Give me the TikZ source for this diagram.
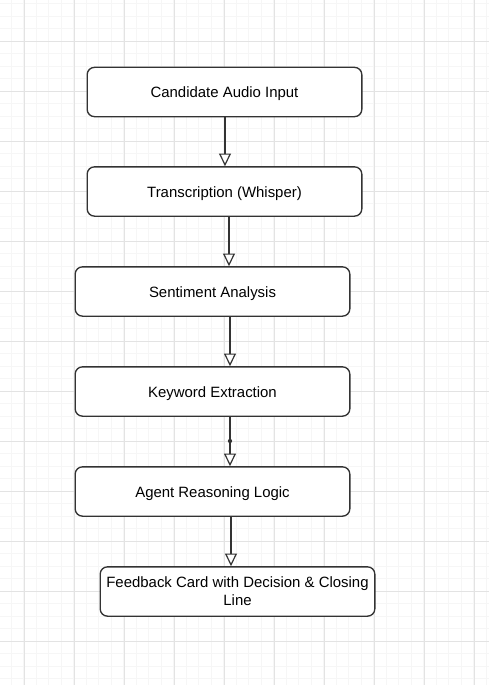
\documentclass[tikz,border=0pt]{standalone}
\usepackage{fontspec}
\setmainfont{Liberation Sans}
\usepackage{tikz}
\usetikzlibrary{arrows.meta}
\usepackage{xcolor}
\definecolor{gridminor}{HTML}{F6F6F6}
\definecolor{gridmajor}{HTML}{E3E3E3}
\definecolor{edge}{HTML}{333333}

\begin{document}
\begin{tikzpicture}[x=0.75pt,y=-0.75pt,
  stage/.style={draw=edge,line width=1pt,rounded corners=5.5pt,fill=white,
    minimum width=206pt,minimum height=37pt,inner sep=0pt,
    font=\fontsize{11.2}{13.5}\selectfont,align=center},
  oneline/.style={text height=10.5pt,text depth=1.8pt},
  flow/.style={draw=edge,line width=0.9pt,
    -{Triangle[length=9.5pt,width=9pt,open,fill=white,line width=0.9pt]}}]
  \useasboundingbox (0,0) rectangle (489,685);
  % grid
  \foreach \gx in {-1.5,11,...,489} \draw[gridminor,line width=0.6pt] (\gx,0) -- (\gx,685);
  \foreach \gy in {3.5,16,...,685} \draw[gridminor,line width=0.6pt] (0,\gy) -- (489,\gy);
  \foreach \gx in {24,74,...,489} \draw[gridmajor,line width=0.6pt] (\gx,0) -- (\gx,685);
  \foreach \gy in {41,91,...,685} \draw[gridmajor,line width=0.6pt] (0,\gy) -- (489,\gy);
  % stages
  \node[stage,oneline] (audio) at (224.5,92) {Candidate Audio Input};
  \node[stage,oneline] (transcribe) at (224.5,191.5) {Transcription (Whisper)};
  \node[stage,oneline] (sentiment) at (212.5,291.5) {Sentiment Analysis};
  \node[stage,oneline] (keyword) at (212.5,391.5) {Keyword Extraction};
  \node[stage,oneline] (reasoning) at (212.5,491.5) {Agent Reasoning Logic};
  \node[stage] (feedback) at (237.5,591.5) {Feedback Card with Decision \& Closing\\Line};
  % arrows
  \draw[flow] (audio.south -| 225,0) -- (transcribe.north -| 225,0);
  \draw[flow] (transcribe.south -| 229,0) -- (sentiment.north -| 229,0);
  \draw[flow] (sentiment.south -| 230,0) -- (keyword.north -| 230,0);
  \draw[flow] (keyword.south -| 230,0) -- (reasoning.north -| 230,0);
  \draw[flow] (reasoning.south -| 231,0) -- (feedback.north -| 231,0);
  \fill[edge] (230,441) circle (1.6pt);
\end{tikzpicture}
\end{document}
